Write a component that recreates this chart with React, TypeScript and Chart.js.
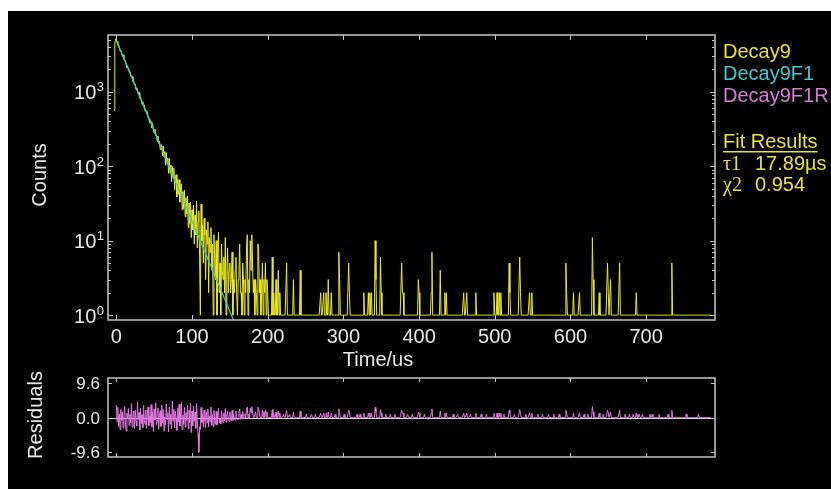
import React, { useEffect, useRef } from 'react';
import { Chart, registerables } from 'chart.js';

Chart.register(...registerables);

// ---------------- data ----------------
// Decay9: counts per 1 µs channel, channels from t = -3 µs to t = 200 µs
const CHANNEL_START = -3;
const decayCounts = [
  560, 4300, 5150, 4870,
  4726, 4250, 4309, 3879, 3520, 3608, 3346, 3008, 3140, 2745,
  2649, 2630, 2298, 2106, 2160, 2083, 1875, 1845, 1608, 1617,
  1605, 1375, 1395, 1242, 1272, 1065, 1126, 1024, 929, 979,
  823, 852, 789, 681, 734, 635, 669, 550, 570, 502,
  540, 445, 452, 381, 424, 389, 326, 369, 307, 278,
  317, 257, 266, 215, 255, 203, 218, 168, 192, 195,
  138, 187, 133, 158, 103, 153, 108, 129, 80, 127,
  81, 104, 62, 100, 70, 94, 48, 72, 77, 39,
  66, 42, 66, 33, 51, 58, 26, 46, 27, 48,
  21, 38, 23, 40, 15, 32, 17, 33, 11, 26,
  14, 30, 9, 22, 12, 34, 8, 18, 25, 6,
  0, 31, 10, 16, 5, 20, 12, 3, 14, 9,
  18, 2, 11, 7, 15, 4, 9, 0, 12, 6,
  3, 10, 1, 7, 13, 2, 5, 0, 9, 4,
  3, 6, 2, 11, 1, 3, 8, 2, 4, 5,
  2, 3, 7, 1, 3, 2, 4, 6, 2, 1,
  3, 4, 9, 2, 2, 0, 5, 3, 1, 3,
  2, 8, 12, 1, 3, 2, 10, 4, 12, 5,
  2, 3, 1, 3, 2, 0, 9, 8, 2, 3,
  0, 2, 5, 1, 3, 2, 5, 0, 3, 2,
];
// sparse non-zero channels after 200 µs
const tailSpikeTimes = [
  206, 208, 211, 214, 216, 225, 234, 243, 270, 274, 277, 280, 284, 294, 295, 307, 308,
  327, 333, 335, 337, 342, 343, 349, 350, 377, 378, 379, 399, 400, 416, 417, 428, 434,
  436, 459, 463, 475, 499, 503, 506, 508, 519, 520, 533, 534, 546, 549, 594, 595, 604,
  612, 629, 630, 638, 649, 650, 653, 665, 687, 734,
];
const tailSpikeCounts = [
  6, 2, 3, 4, 2, 5, 3, 4, 2, 2, 2, 3, 2, 7, 3, 5, 2,
  2, 2, 2, 2, 10, 3, 6, 2, 5, 2, 2, 3, 2, 2, 7, 4, 2,
  2, 2, 2, 2, 2, 2, 2, 2, 5, 2, 6, 2, 2, 2, 5, 2, 2,
  2, 11, 3, 2, 5, 2, 3, 5, 2, 5,
];
const LAST_CHANNEL = 787;

// Decay9F1: single exponential fit (straight on the log axis)
const fitTimes = [0, 155];
const fitCounts = [4900, 0.85];

// Decay9F1R: weighted residuals, channels from t = 0 µs to t = 200 µs
const RESID_START = 0;
const residValues = [
  3.5, -1.2, 2.8, -2.5, 1.0, -3.4, 2.2, -0.8, 1.6, -2.9,
  0.5, 3.1, -1.9, -3.8, 1.2, -0.4, 2.5, -2.2, 0.9, -1.5,
  3.9, -2.7, 0.3, 1.8, -3.1, 2.0, -1.1, -2.4, 4.3, -0.6,
  1.4, -3.5, 2.6, -1.7, 0.8, -2.8, 3.3, -0.9, -1.9, 2.1,
  -3.0, 1.1, 2.9, -2.3, 0.4, -1.4, 3.6, -2.6, 1.5, -3.9,
  2.4, -0.7, 4.1, -2.0, -1.2, 2.7, -3.3, 0.6, 1.9, -2.5,
  3.4, -1.6, 2.2, -3.7, 0.2, -2.1, 3.8, -0.5, 1.3, -4.0,
  2.9, -1.8, 0.9, -3.2, 4.6, -1.0, 2.3, -2.9, 1.7, -0.3,
  -3.6, 2.6, -1.3, 3.7, -2.4, 1.0, 4.2, -3.4, 0.7, -1.9,
  2.8, -2.7, 1.4, -0.8, 3.5, -3.1, 2.0, -1.5, 4.0, -4.2,
  1.8,
  -2.3, 3.2, -1.1, 1.5, -3.0, 3.9, -0.6, -4.5, -9.7, -2.6,
  -3.3, 2.8, -1.4, 0.9, -2.7, 2.1, -0.8, -2.9, 1.6, -1.5,
  2.4, -2.6, 0.5, -1.2, 2.9, -2.2, 0.8, -2.5, 2.0, -0.9,
  -1.9, 1.7, -2.1, 0.6, 2.6, -1.6, -0.3, -1.8, 1.9, -0.7,
  -1.5, 1.2, -0.9, 2.5, -1.3, 0.4, 1.8, -0.8, -1.1, 1.5,
  -0.4, -0.9, 2.0, -0.8, 0.9, -0.3, -0.7, 1.8, 0.5, -0.6,
  -0.5, 1.4, 2.4, -0.5, 0.8, -0.4, 1.7, 0.3, -0.3, 1.1,
  -0.2, 2.2, 2.9, -0.2, 0.9, -0.1, 2.6, 1.4, 3.0, 1.6,
  0, 0, 0, 1.6, 0, 0, 2.9, 2.7, 1.3, 0,
  0, 0, 2.1, 0, 1.6, 0, 2.1, 0, 1.6, 0,
];
const tailResidTimes = [
  206, 208, 211, 214, 216, 221, 225, 229, 234, 243, 251, 258, 263, 270, 274, 277, 280,
  284, 289, 294, 295, 301, 307, 308, 318, 322, 327, 333, 335, 337, 342, 343, 349, 350,
  356, 362, 368, 377, 378, 379, 385, 391, 399, 400, 407, 416, 417, 428, 434, 436, 445,
  451, 459, 463, 468, 475, 482, 489, 499, 503, 506, 508, 512, 519, 520, 526, 533, 534,
  541, 546, 549, 557, 563, 571, 578, 585, 594, 595, 604, 612, 618, 623, 629, 630, 638,
  643, 649, 650, 653, 665, 672, 678, 683, 687, 689, 691, 695, 705, 708, 717, 729, 734,
  753, 769,
];
const tailResidValues = [
  2.2, 1.2, 1.5, 1.8, 1.2, 0.9, 2.0, 0.9, 1.5, 1.8, 0.9, 0.9, 0.9, 1.2, 1.2, 1.2, 1.5,
  1.2, 0.9, 2.4, 1.5, 0.9, 2.0, 1.2, 0.9, 0.9, 1.2, 1.2, 1.2, 1.2, 2.8, 1.5, 2.2, 1.2,
  0.9, 0.9, 0.9, 2.0, 1.2, 1.2, 0.9, 0.9, 1.5, 1.2, 0.9, 1.2, 2.4, 1.8, 1.2, 1.2, 0.9,
  0.9, 1.2, 1.2, 0.9, 1.2, 0.9, 0.9, 1.2, 1.2, 1.2, 1.2, 0.9, 2.0, 1.2, 0.9, 2.2, 1.2,
  0.9, 1.2, 1.2, 0.9, 0.9, 0.9, 0.9, 0.9, 2.0, 1.2, 1.2, 1.2, 0.9, 0.9, 3.0, 1.5, 1.2,
  0.9, 2.0, 1.2, 1.5, 2.0, 0.9, 0.9, 0.9, 1.2, 0.9, 0.9, 0.9, 0.9, 0.9, 0.9, 0.9, 2.0,
  0.9, 0.9,
];

// axes and labels
const xTickValues = [0, 100, 200, 300, 400, 500, 600, 700];
const countTickValues = [1, 10, 100, 1000];
const countTickExponents = ['0', '1', '2', '3'];
const countMinorDecades = [1, 10, 100, 1000];
const residTickValues = [9.6, 0, -9.6];
const residTickLabels = ['9.6', '0.0', '-9.6'];
const xTitle = 'Time/us';
const yTitle = 'Counts';
const residTitle = 'Residuals';
const legendNames = ['Decay9', 'Decay9F1', 'Decay9F1R'];
const fitHeading = 'Fit Results';
const tauSymbol = 'τ1';
const tauValue = '17.89µs';
const chiSymbol = 'χ2';
const chiValue = '0.954';

const X_MIN = -11;
const X_MAX = 791;
const Y_MIN = 0.86;
const Y_MAX = 5800;
const R_MIN = -11;
const R_MAX = 11;

// ---------------- styles ----------------
const SANS = '"Liberation Sans", Arial, sans-serif';
const SERIF = '"Liberation Serif", "Times New Roman", serif';
const FRAME = '#c4c4c4';
const TEXT = '#e8e8e8';
const YELLOW = '#ecec1e';
const YELLOW_TEXT = '#e6e040';
const CYAN = '#3cc8c8';
const CYAN_TEXT = '#40c8d0';
const PINK = '#e27ae2';
const PINK_TEXT = '#d67cd6';

function denseSeries(start: number, early: number[], spikeT: number[], spikeV: number[], last: number) {
  const vals: number[] = new Array(last - start + 1).fill(0);
  early.forEach((v, i) => { vals[i] = v; });
  spikeT.forEach((t, i) => { vals[t - start] = spikeV[i]; });
  return vals;
}

function line(ctx: CanvasRenderingContext2D, x1: number, y1: number, x2: number, y2: number) {
  ctx.beginPath();
  ctx.moveTo(x1, y1);
  ctx.lineTo(x2, y2);
  ctx.stroke();
}

const mainDecor = {
  id: 'mainDecor',
  afterDraw(chart: any) {
    const { ctx, chartArea: a, scales } = chart;
    const xs = scales.x;
    const ys = scales.y;
    ctx.save();
    // frame
    ctx.strokeStyle = FRAME;
    ctx.lineWidth = 1.5;
    ctx.strokeRect(a.left, a.top, a.right - a.left, a.bottom - a.top);
    ctx.lineWidth = 1;
    // x ticks (top and bottom, inward)
    xTickValues.forEach((v) => {
      const px = Math.round(xs.getPixelForValue(v)) + 0.5;
      line(ctx, px, a.bottom, px, a.bottom - 5);
      line(ctx, px, a.top, px, a.top + 5);
    });
    // y ticks, log major + minor, both sides
    countMinorDecades.forEach((base) => {
      for (let m = 1; m <= 9; m++) {
        const v = base * m;
        if (v < Y_MIN || v > Y_MAX) continue;
        const py = Math.round(ys.getPixelForValue(v)) + 0.5;
        const len = m === 1 ? 5 : 3;
        line(ctx, a.left, py, a.left + len, py);
        line(ctx, a.right, py, a.right - len, py);
      }
    });
    // x tick labels
    ctx.fillStyle = TEXT;
    ctx.font = `20px ${SANS}`;
    ctx.textAlign = 'center';
    ctx.textBaseline = 'alphabetic';
    xTickValues.forEach((v) => {
      ctx.fillText(String(v), xs.getPixelForValue(v), 332);
    });
    // y tick labels 10^n
    countTickValues.forEach((v, i) => {
      const py = ys.getPixelForValue(v);
      ctx.font = `13px ${SANS}`;
      ctx.textAlign = 'right';
      const exp = countTickExponents[i];
      const w = ctx.measureText(exp).width;
      ctx.fillText(exp, 96, py - 0.5);
      ctx.font = `20px ${SANS}`;
      ctx.fillText('10', 96 - w - 0.5, py + 7.5);
    });
    // axis titles
    ctx.font = `20px ${SANS}`;
    ctx.textAlign = 'center';
    ctx.fillText(xTitle, 370, 355);
    ctx.save();
    ctx.translate(38, 164);
    ctx.rotate(-Math.PI / 2);
    ctx.fillText(yTitle, 0, 0);
    ctx.restore();
    // legend / fit results
    ctx.textAlign = 'left';
    ctx.font = `20px ${SANS}`;
    const lx = 715;
    ctx.fillStyle = YELLOW_TEXT;
    ctx.fillText(legendNames[0], lx, 47);
    ctx.fillStyle = CYAN_TEXT;
    ctx.fillText(legendNames[1], lx, 69);
    ctx.fillStyle = PINK_TEXT;
    ctx.fillText(legendNames[2], lx, 90.5);
    ctx.fillStyle = YELLOW_TEXT;
    ctx.fillText(fitHeading, lx, 137);
    const hw = ctx.measureText(fitHeading).width;
    ctx.fillRect(lx, 140, hw, 1.5);
    ctx.font = `20px ${SERIF}`;
    ctx.fillText(tauSymbol, lx, 159);
    ctx.fillText(chiSymbol, lx, 180);
    ctx.font = `20px ${SANS}`;
    ctx.fillText(tauValue, 747, 159);
    ctx.fillText(chiValue, 747, 180);
    ctx.restore();
  },
};

const residDecor = {
  id: 'residDecor',
  beforeDatasetsDraw(chart: any) {
    const { ctx, chartArea: a, scales } = chart;
    const py = Math.round(scales.y.getPixelForValue(0)) + 0.5;
    ctx.save();
    ctx.strokeStyle = '#d8d8d8';
    ctx.lineWidth = 1;
    line(ctx, a.left, py, a.right, py);
    ctx.restore();
  },
  afterDraw(chart: any) {
    const { ctx, chartArea: a, scales } = chart;
    const xs = scales.x;
    const ys = scales.y;
    ctx.save();
    ctx.strokeStyle = FRAME;
    ctx.lineWidth = 1.5;
    ctx.strokeRect(a.left, a.top, a.right - a.left, a.bottom - a.top);
    ctx.lineWidth = 1;
    xTickValues.forEach((v) => {
      const px = Math.round(xs.getPixelForValue(v)) + 0.5;
      line(ctx, px, a.bottom, px, a.bottom - 4);
      line(ctx, px, a.top, px, a.top + 4);
    });
    ctx.fillStyle = TEXT;
    ctx.font = `17px ${SANS}`;
    ctx.textAlign = 'right';
    ctx.textBaseline = 'middle';
    residTickValues.forEach((v, i) => {
      const py = Math.round(ys.getPixelForValue(v)) + 0.5;
      line(ctx, a.left, py, a.left + 4, py);
      line(ctx, a.right, py, a.right - 4, py);
      ctx.fillText(residTickLabels[i], 92, py + 1);
    });
    ctx.font = `20px ${SANS}`;
    ctx.textAlign = 'center';
    ctx.textBaseline = 'alphabetic';
    ctx.save();
    ctx.translate(34, 54);
    ctx.rotate(-Math.PI / 2);
    ctx.fillText(residTitle, 0, 0);
    ctx.restore();
    ctx.restore();
  },
};

const hiddenScale = {
  ticks: { display: false },
  grid: { display: false },
  border: { display: false },
};

export default function App() {
  const mainRef = useRef<HTMLCanvasElement>(null);
  const resRef = useRef<HTMLCanvasElement>(null);

  useEffect(() => {
    const counts = denseSeries(CHANNEL_START, decayCounts, tailSpikeTimes, tailSpikeCounts, LAST_CHANNEL);
    const decayPoints = counts.map((c, i) => ({ x: CHANNEL_START + i, y: c > 0 ? c : 1 }));
    const fitPoints = fitTimes.map((t, i) => ({ x: t, y: fitCounts[i] }));
    const resid = denseSeries(RESID_START, residValues, tailResidTimes, tailResidValues, LAST_CHANNEL);
    const residPoints = resid.map((r, i) => ({ x: RESID_START + i, y: r }));

    const main = new Chart(mainRef.current as HTMLCanvasElement, {
      type: 'line',
      data: {
        datasets: [
          {
            label: legendNames[1],
            data: fitPoints,
            borderColor: CYAN,
            borderWidth: 1.3,
            pointRadius: 0,
            order: 0,
          },
          {
            label: legendNames[0],
            data: decayPoints,
            borderColor: YELLOW,
            borderWidth: 1,
            pointRadius: 0,
            order: 1,
          },
        ],
      },
      options: {
        responsive: false,
        animation: false,
        events: [],
        parsing: false,
        normalized: true,
        layout: { padding: { left: 0, right: 116, top: 24, bottom: 0 } },
        plugins: { legend: { display: false }, tooltip: { enabled: false } },
        scales: {
          x: {
            type: 'linear',
            min: X_MIN,
            max: X_MAX,
            ...hiddenScale,
            afterFit: (s: any) => { s.height = 61; },
          },
          y: {
            type: 'logarithmic',
            min: Y_MIN,
            max: Y_MAX,
            ...hiddenScale,
            afterFit: (s: any) => { s.width = 100; },
          },
        },
      } as any,
      plugins: [mainDecor],
    });

    const res = new Chart(resRef.current as HTMLCanvasElement, {
      type: 'line',
      data: {
        datasets: [
          {
            label: legendNames[2],
            data: residPoints,
            borderColor: PINK,
            borderWidth: 1,
            pointRadius: 0,
          },
        ],
      },
      options: {
        responsive: false,
        animation: false,
        events: [],
        parsing: false,
        normalized: true,
        layout: { padding: { left: 0, right: 116, top: 17, bottom: 0 } },
        plugins: { legend: { display: false }, tooltip: { enabled: false } },
        scales: {
          x: {
            type: 'linear',
            min: X_MIN,
            max: X_MAX,
            ...hiddenScale,
            afterFit: (s: any) => { s.height = 32; },
          },
          y: {
            type: 'linear',
            min: R_MIN,
            max: R_MAX,
            ...hiddenScale,
            afterFit: (s: any) => { s.width = 100; },
          },
        },
      } as any,
      plugins: [residDecor],
    });

    return () => {
      main.destroy();
      res.destroy();
    };
  }, []);

  return (
    <div
      style={{
        position: 'fixed',
        left: 8,
        top: 11,
        width: 823,
        height: 478,
        background: '#000',
        overflow: 'hidden',
      }}
    >
      <canvas ref={mainRef} width={823} height={370} style={{ position: 'absolute', left: 0, top: 0 }} />
      <canvas ref={resRef} width={823} height={128} style={{ position: 'absolute', left: 0, top: 350 }} />
    </div>
  );
}
